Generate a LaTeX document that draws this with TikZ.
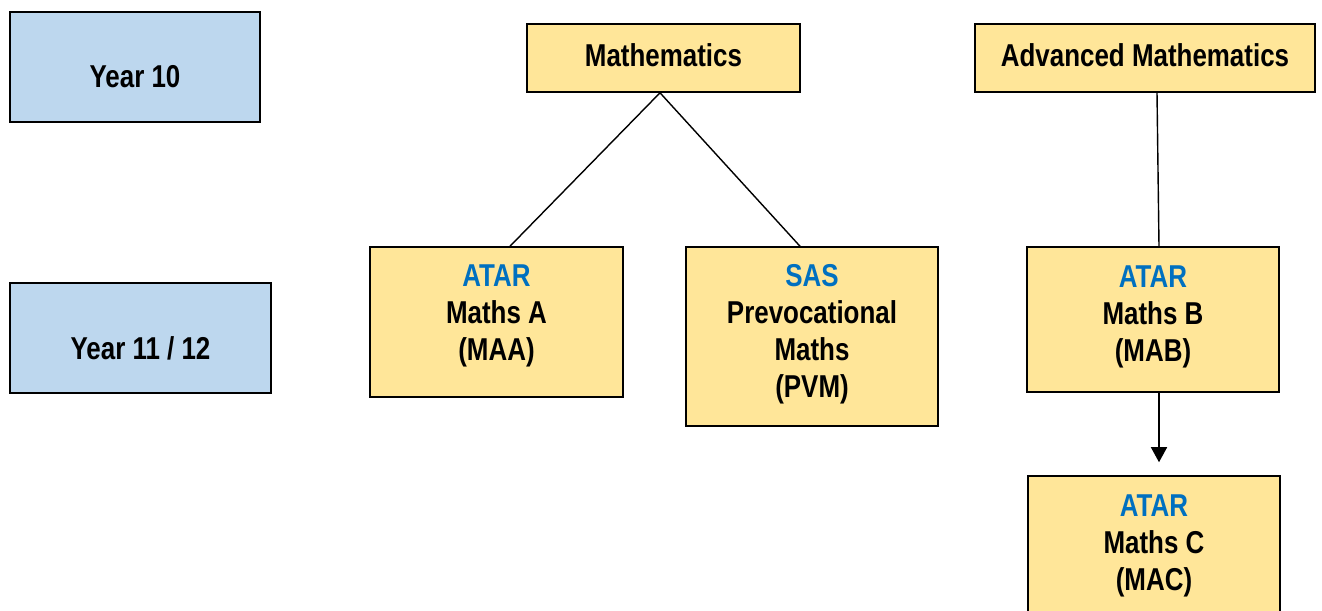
\documentclass[tikz,border=0pt]{standalone}
\usepackage{fontspec}
\setmainfont{Liberation Sans}[FakeStretch=0.82]
\usepackage{tikz}
\usetikzlibrary{arrows.meta}
\definecolor{yearblue}{HTML}{BDD7EE}
\definecolor{subjgold}{HTML}{FFE699}
\definecolor{atarblue}{HTML}{0070C0}

\begin{document}
\begin{tikzpicture}[x=0.02cm,y=-0.02cm,
        box/.style={draw=black,line width=0.9pt,inner sep=0pt,align=center,
                font=\bfseries\fontsize{18}{21}\selectfont},
        yearbox/.style={box,fill=yearblue,text depth=0.4cm},
        subjbox/.style={box,fill=subjgold,text depth=0cm}]
        \useasboundingbox (0,0) rectangle (1322,610);
        \node[yearbox,text height=1.2cm,minimum width=5cm,minimum height=2.2cm] (y10) at (135,67) {Year 10};
        \node[yearbox,text height=1.24cm,minimum width=5.22cm,minimum height=2.2cm] (y1112) at (140.5,338) {Year 11 / 12};
        \node[subjbox,text height=0.72cm,text depth=0.4cm,minimum width=5.46cm,minimum height=1.36cm] (math) at (663.5,58) {Mathematics};
        \node[subjbox,text height=0.72cm,text depth=0.4cm,minimum width=6.8cm,minimum height=1.36cm] (adv) at (1145,58) {Advanced Mathematics};
        \node[subjbox,text height=1.54cm,minimum width=5.06cm,minimum height=3cm] (maa) at (496.5,322) {\color{atarblue}ATAR\\Maths A\\(MAA)};
        \node[subjbox,text height=2.42cm,minimum width=5.04cm,minimum height=3.58cm] (pvm) at (812,336.5) {\color{atarblue}SAS\\Prevocational\\Maths\\(PVM)};
        \node[subjbox,text height=1.66cm,minimum width=5.04cm,minimum height=2.9cm] (mab) at (1153,319.5) {\color{atarblue}ATAR\\Maths B\\(MAB)};
        \node[subjbox,text height=1.66cm,minimum width=5.04cm,minimum height=2.9cm] (mac) at (1154,548.5) {\color{atarblue}ATAR\\Maths C\\(MAC)};
        \draw[line width=0.8pt] ([xshift=-3.5*0.02cm]math.south) -- ([xshift=13.5*0.02cm]maa.north);
        \draw[line width=0.8pt] ([xshift=-3.5*0.02cm]math.south) -- ([xshift=-12*0.02cm]pvm.north);
        \draw[line width=0.8pt] ([xshift=12*0.02cm]adv.south) -- ([xshift=6*0.02cm]mab.north);
        \draw[line width=0.8pt,-{Triangle[length=0.3cm,width=0.32cm]},shorten >=0.26cm] ([xshift=6*0.02cm]mab.south) -- ([xshift=5*0.02cm]mac.north);
    \end{tikzpicture}
\end{document}
